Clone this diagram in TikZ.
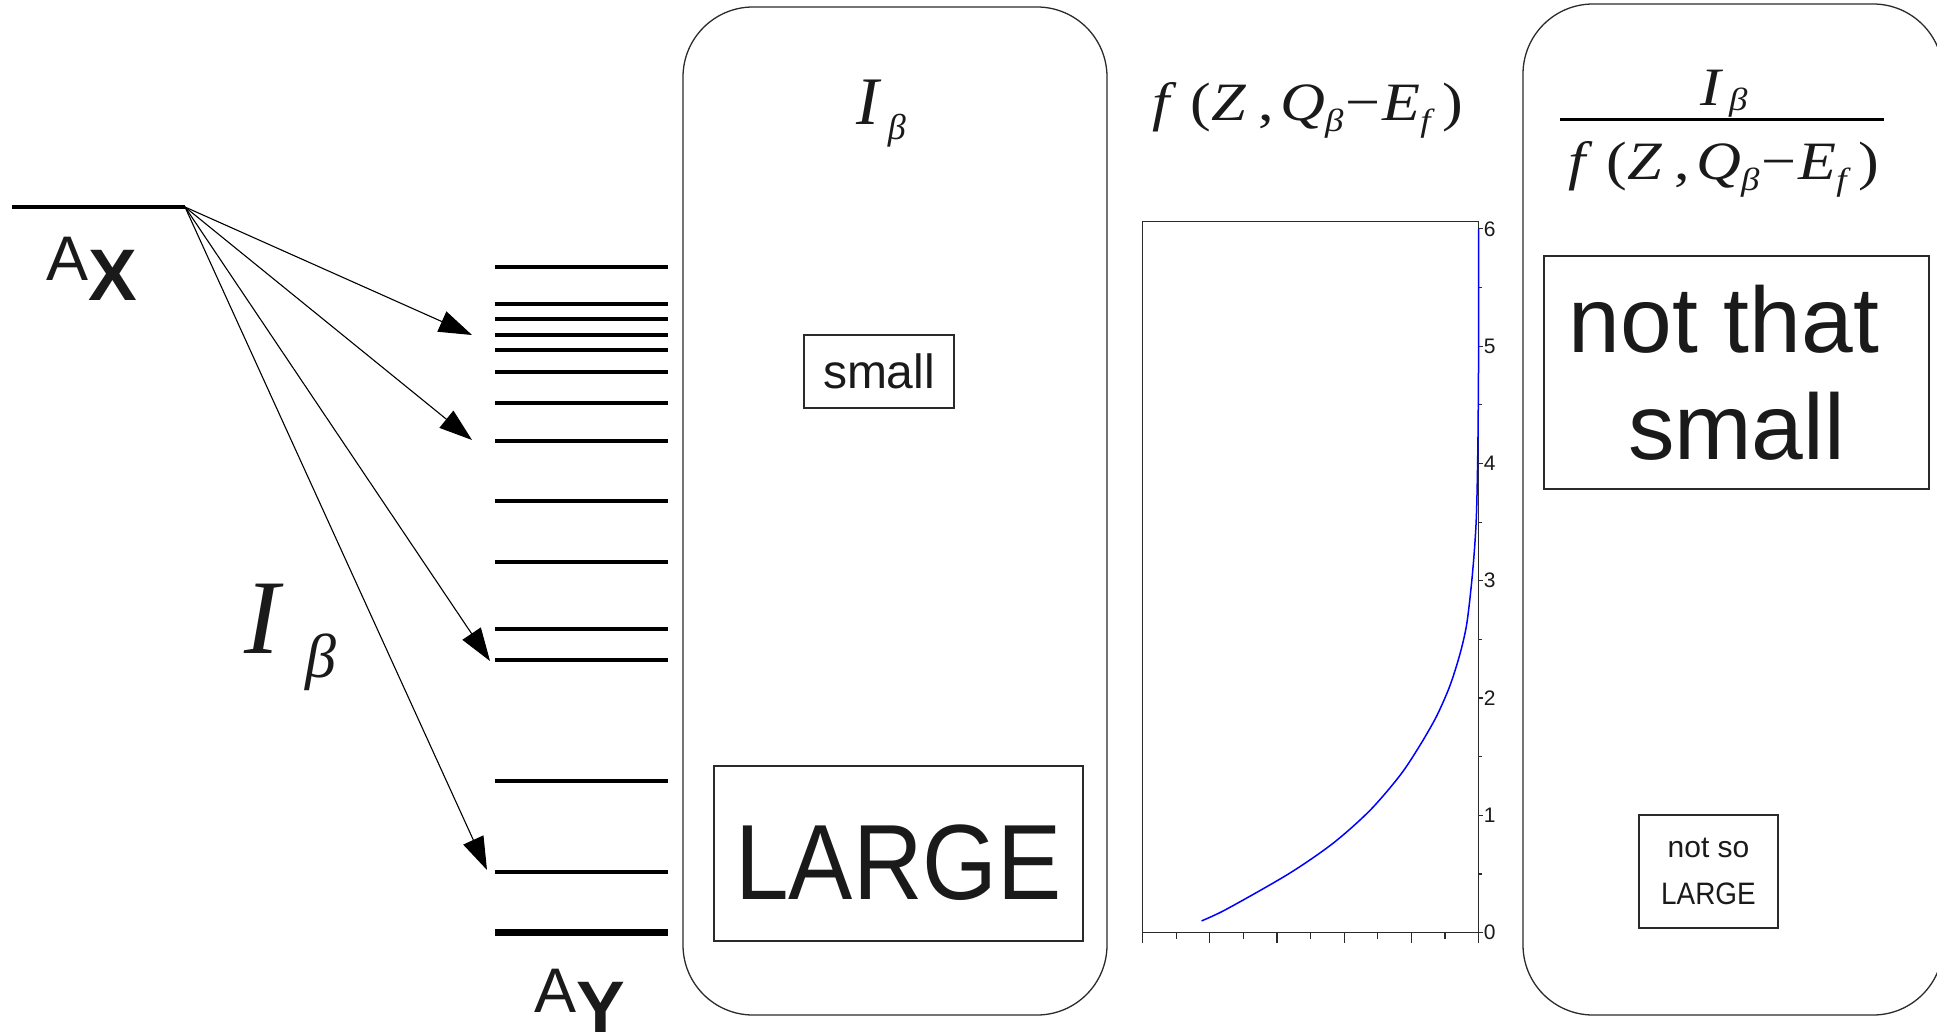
\documentclass[tikz,border=0pt]{standalone}
\usepackage{fontspec}
\setmainfont{Liberation Sans}
\newfontfamily\narrowsans[FakeStretch=0.9]{Liberation Sans}
\newfontfamily\serifit{Liberation Serif}
\newfontfamily\widemath[FakeStretch=1.15]{Liberation Serif}
\usetikzlibrary{arrows.meta}
\definecolor{LevelInk}{HTML}{000000}
\definecolor{FrameInk}{HTML}{2A2A2A}
\definecolor{TextInk}{HTML}{1A1A1A}
\definecolor{CurveBlue}{HTML}{0000FF}
\newcommand{\lowered}[3]{\raisebox{-#1pt}{\fontsize{#2}{#2}\selectfont #3}}

\begin{document}
\begin{tikzpicture}[
    x=1pt, y=-1pt,
    text=TextInk,
    level/.style={draw=LevelInk, line width=3.4pt},
    ground/.style={draw=LevelInk, line width=7pt},
    decay/.style={-{Triangle[length=33pt,width=22pt]},
                  draw=LevelInk, line width=1.1pt},
    panel/.style={draw=FrameInk, rounded corners=70pt, line width=1.3pt},
    tag/.style={draw=FrameInk, line width=1.2pt, inner sep=0pt,
                align=center},
    axis/.style={draw=FrameInk, line width=1.1pt},
    nuclide/.style={anchor=base west, inner sep=0pt,
                    font=\fontsize{63}{63}\selectfont},
    tick label/.style={anchor=west, inner sep=1pt,
                       font=\fontsize{21}{21}\selectfont}
]
    \useasboundingbox (0,0) rectangle (1937,1032);
    \clip (0,0) rectangle (1937,1032);

    % parent and daughter levels
    \coordinate (parent) at (185,207);
    \draw[level] (12,207) -- (parent);
    \node[nuclide] (mother) at (46,300)
        {\raisebox{20pt}{A}{\fontsize{73}{73}\selectfont\bfseries X}};

    \foreach \y in {267,304,319,335,350,372,403,441,501,562,629,660,781,872}
        \draw[level] (495,\y) -- (668,\y);
    \draw[ground] (495,932) -- (668,932);
    \node[nuclide] (daughter) at (534,1032)
        {\raisebox{20pt}{A}{\fontsize{73}{73}\selectfont\bfseries Y}};

    \coordinate (feed1) at (472,335);
    \coordinate (feed2) at (472,440);
    \coordinate (feed3) at (490,661);
    \coordinate (feed4) at (487,870);
    \foreach \t in {feed1,feed2,feed3,feed4}
        \draw[decay] (parent) -- (\t);

    \node[anchor=base west, inner sep=0pt] (intensity) at (244,653)
        {\serifit\itshape\fontsize{106}{106}\selectfont
         I\hspace{26pt}\lowered{24}{62}{β}};

    % intensity panel
    \node[panel, minimum width=424pt, minimum height=1008pt]
        (panelI) at (895,511) {};
    \node[anchor=base west, inner sep=0pt] (titleI) at (856,125)
        {\serifit\itshape\fontsize{68}{68}\selectfont
         I\hspace{9pt}\lowered{15}{36}{β}};
    \node[tag, minimum width=150pt, minimum height=73pt,
          font=\fontsize{48}{48}\selectfont] (small) at (879,371.5) {small};
    \node[tag, minimum width=369pt, minimum height=175pt,
          text height=91pt, text depth=0pt,
          font=\narrowsans\fontsize{107}{107}\selectfont]
        (large) at (898.5,853.5) {LARGE};

    % phase space factor
    \node[anchor=base, inner sep=0pt] (titleF) at (1308,121)
        {\widemath\fontsize{54}{54}\selectfont
         \textit{f}\hspace{14pt}(\textit{Z}\hspace{12pt},\hspace{6pt}%
         \textit{Q}\lowered{11}{32}{\textit{β}}\hspace{2pt}−\hspace{2pt}%
         \textit{E}\lowered{11}{32}{\textit{f}}\hspace{8pt})};

    \begin{scope}[shift={(1142.6,932.6)}, x=67.2pt, y=117.3pt]
        \draw[axis] (0,0) rectangle (5,6.06);
        \foreach \v in {0,...,6} {
            \draw[axis] (5,\v) -- +(4pt,0);
            \node[tick label] (tick\v) at (5.06,\v) {\v};
        }
        \foreach \v in {0.5,1.5,...,5.5}
            \draw[axis] (5,\v) -- +(3pt,0);
        \foreach \u in {0,...,5}
            \draw[axis] (\u,0) -- +(0,-10pt);
        \foreach \u in {0.5,1.5,...,4.5}
            \draw[axis] (\u,0) -- +(0,-6pt);
        \draw[CurveBlue, line width=1.5pt] plot[smooth, tension=0.5]
            coordinates {(0.877,0.1) (1.25,0.2) (2.17,0.5) (2.83,0.76)
                         (3.38,1.04) (3.83,1.34) (4.12,1.59) (4.37,1.84)
                         (4.57,2.1) (4.72,2.37) (4.82,2.62) (4.89,2.95)
                         (4.94,3.28) (4.97,3.6) (4.99,4.19) (5,5) (5,6)};
    \end{scope}

    % ratio panel
    \node[panel, minimum width=420pt, minimum height=1011pt]
        (panelR) at (1733,509.5) {};
    \node[anchor=base, inner sep=0pt] (ratioTop) at (1724,106)
        {\widemath\itshape\fontsize{54}{54}\selectfont
         I\hspace{8pt}\lowered{5}{32}{β}};
    \draw[line width=3pt] (1560,120) -- (1884,120);
    \node[anchor=base, inner sep=0pt] (ratioBot) at (1724,180)
        {\widemath\fontsize{54}{54}\selectfont
         \textit{f}\hspace{14pt}(\textit{Z}\hspace{12pt},\hspace{6pt}%
         \textit{Q}\lowered{11}{32}{\textit{β}}\hspace{2pt}−\hspace{2pt}%
         \textit{E}\lowered{11}{32}{\textit{f}}\hspace{8pt})};
    \node[tag, minimum width=385pt, minimum height=233pt,
          font=\fontsize{93}{107}\selectfont]
        (notsmall) at (1736.5,372.5) {not that\kern25pt\\small};
    \node[tag, minimum width=139pt, minimum height=113pt,
          font=\fontsize{30}{47}\selectfont]
        (notlarge) at (1708.5,871.5)
        {not so\\{\narrowsans\fontsize{31}{47}\selectfont LARGE}};
\end{tikzpicture}
\end{document}
